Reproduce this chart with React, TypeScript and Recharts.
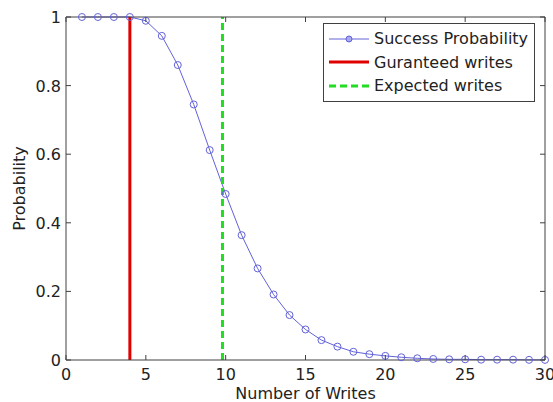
import React from 'react';
import { LineChart, Line, XAxis, YAxis, ReferenceLine } from 'recharts';

const writes = [1, 2, 3, 4, 5, 6, 7, 8, 9, 10, 11, 12, 13, 14, 15, 16, 17, 18, 19, 20, 21, 22, 23, 24, 25, 26, 27, 28, 29, 30];
const successProb = [1, 1, 1, 1, 0.989, 0.945, 0.86, 0.745, 0.612, 0.484, 0.364, 0.267, 0.191, 0.131, 0.089, 0.058, 0.039, 0.024, 0.017, 0.012, 0.008, 0.005, 0.003, 0.002, 0.002, 0.001, 0.001, 0.001, 0.0005, 0.0003];
const xTicks = [0, 5, 10, 15, 20, 25, 30];
const yTicks = [0, 0.2, 0.4, 0.6, 0.8, 1];
const guaranteedWrites = 4;
const expectedWrites = 9.8;
const legendItems = ['Success Probability', 'Guranteed writes', 'Expected writes'];

const data = writes.map((w, i) => ({ writes: w, prob: successProb[i] }));

const AXIS = '#404040';
const TEXT = '#222';
const BLUE = '#6262d8';
const RED = '#e00000';
const GREEN = '#22dd22';
const FONT = 16;

const BottomTick = (p: any) => (
  <g>
    <line x1={p.x} x2={p.x} y1={p.y} y2={p.y - 5} stroke={AXIS} />
    <text x={p.x} y={p.y + 20} textAnchor="middle" fill={TEXT} fontSize={FONT}>{String(p.payload.value)}</text>
  </g>
);
const TopTick = (p: any) => (
  <line x1={p.x} x2={p.x} y1={p.y} y2={p.y + 5} stroke={AXIS} />
);
const LeftTick = (p: any) => (
  <g>
    <line x1={p.x} x2={p.x + 5} y1={p.y} y2={p.y} stroke={AXIS} />
    <text x={p.x - 5} y={p.y + 6} textAnchor="end" fill={TEXT} fontSize={FONT}>{String(p.payload.value)}</text>
  </g>
);
const RightTick = (p: any) => (
  <line x1={p.x} x2={p.x - 5} y1={p.y} y2={p.y} stroke={AXIS} />
);

const LegendBox = () => (
  <div
    style={{
      position: 'absolute',
      left: 323,
      top: 23,
      border: `1px solid ${AXIS}`,
      background: '#fff',
      padding: '3px 6px 3px 5px',
      fontSize: FONT,
      color: TEXT,
      lineHeight: '23.5px',
      whiteSpace: 'nowrap',
    }}
  >
    {legendItems.map((name, i) => (
      <div key={name} style={{ display: 'flex', alignItems: 'center', height: 23.5 }}>
        <svg width={40} height={12} style={{ marginRight: 5 }}>
          {i === 0 && (
            <g>
              <line x1={0} x2={40} y1={6} y2={6} stroke={BLUE} strokeWidth={1} />
              <circle cx={20} cy={6} r={3} stroke={BLUE} fill="#a8a8f0" />
            </g>
          )}
          {i === 1 && <line x1={0} x2={40} y1={6} y2={6} stroke={RED} strokeWidth={3} />}
          {i === 2 && <line x1={0} x2={40} y1={6} y2={6} stroke={GREEN} strokeWidth={3} strokeDasharray="7 4" />}
        </svg>
        <span>{name}</span>
      </div>
    ))}
  </div>
);

export default function App() {
  return (
    <div style={{ position: 'absolute', left: 0, top: 0, width: 553, height: 402, background: '#fff', fontFamily: '"DejaVu Sans", "Liberation Sans", Arial, sans-serif' }}>
      <LineChart width={553} height={402} data={data} margin={{ top: 16, right: 7, bottom: 0, left: 0 }}>
        <XAxis
          dataKey="writes"
          type="number"
          domain={[0, 30]}
          ticks={xTicks}
          interval={0}
          height={42}
          stroke={AXIS}
          tickSize={0}
          tickMargin={0}
          tick={BottomTick}
          label={{ value: 'Number of Writes', position: 'insideBottom', offset: 3, fill: TEXT, fontSize: FONT }}
        />
        <XAxis
          xAxisId="top"
          orientation="top"
          dataKey="writes"
          type="number"
          domain={[0, 30]}
          ticks={xTicks}
          interval={0}
          height={1}
          stroke={AXIS}
          tickSize={0}
          tickMargin={0}
          tick={TopTick}
        />
        <YAxis
          type="number"
          domain={[0, 1]}
          ticks={yTicks}
          interval={0}
          width={66}
          stroke={AXIS}
          tickSize={0}
          tickMargin={0}
          tick={LeftTick}
          label={{
            content: (props: any) => {
              const vb = props.viewBox || { y: 17, height: 343 };
              const cy = vb.y + vb.height / 2;
              return (
                <text x={25} y={cy} textAnchor="middle" fill={TEXT} fontSize={FONT} transform={`rotate(-90, 25, ${cy})`}>
                  Probability
                </text>
              );
            },
          }}
        />
        <YAxis
          yAxisId="right"
          orientation="right"
          type="number"
          domain={[0, 1]}
          ticks={yTicks}
          interval={0}
          width={1}
          stroke={AXIS}
          tickSize={0}
          tickMargin={0}
          tick={RightTick}
        />
        <Line
          dataKey="prob"
          stroke={BLUE}
          strokeWidth={1}
          dot={{ r: 3.5, stroke: BLUE, fill: 'none', strokeWidth: 1 }}
          isAnimationActive={false}
        />
        <Line
          xAxisId="top"
          yAxisId="right"
          dataKey="prob"
          stroke="none"
          dot={false}
          activeDot={false}
          legendType="none"
          isAnimationActive={false}
        />
        <ReferenceLine x={guaranteedWrites} stroke={RED} strokeWidth={3} />
        <ReferenceLine x={expectedWrites} stroke={GREEN} strokeWidth={3} strokeDasharray="7 4" />
      </LineChart>
      <LegendBox />
    </div>
  );
}
